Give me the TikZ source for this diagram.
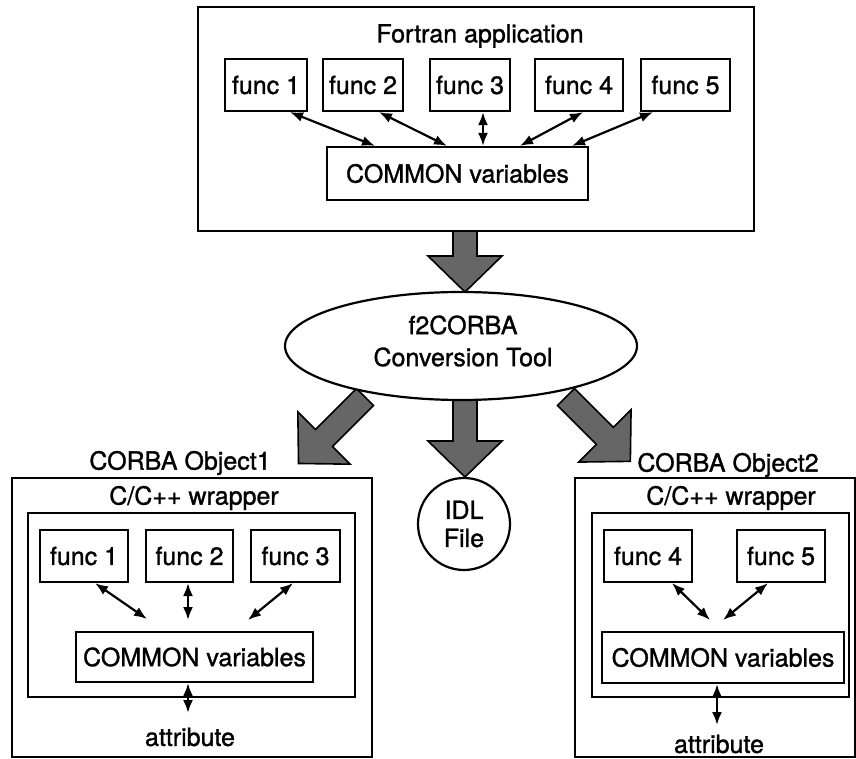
\documentclass[tikz,border=0pt]{standalone}
\usepackage{fontspec}
\setmainfont{TeX Gyre Heros}[FakeBold=1.2]
\usetikzlibrary{arrows.meta,shapes.geometric,calc}
\tikzset{
  box/.style={draw, line width=2.2pt, inner sep=0pt, font=\fontsize{25}{29}\selectfont},
  lbl/.style={inner sep=0pt, font=\fontsize{25}{29}\selectfont},
  link/.style={line width=2.2pt, {Latex[length=13pt,width=10pt]}-{Latex[length=13pt,width=10pt]}},
  pics/bigarrow/.style={code={
    \filldraw[fill=black!60, draw=black, line width=1.6pt, line join=miter]
      (0,12) -- (#1-36,12) -- (#1-36,37) -- (#1,0) -- (#1-36,-37) -- (#1-36,-12) -- (0,-12) -- cycle;}}
}
\begin{document}
\begin{tikzpicture}[x=1pt,y=-1pt]
\useasboundingbox (0,0) rectangle (856,759);

% ---------- Fortran application ----------
\node[box, minimum width=556pt, minimum height=224pt] (fortran) at (476,119) {};
\node[lbl] (ftitle) at (480,36) {Fortran application};
\node[box, minimum width=82pt, minimum height=52pt] (f1) at (266,85) {func 1};
\node[box, minimum width=80pt, minimum height=52pt] (f2) at (363,85) {func 2};
\node[box, minimum width=80pt, minimum height=52pt] (f3) at (470,85) {func 3};
\node[box, minimum width=88pt, minimum height=52pt] (f4) at (579,85) {func 4};
\node[box, minimum width=89pt, minimum height=52pt] (f5) at (685.5,85) {func 5};
\node[box, minimum width=261pt, minimum height=53pt] (com0) at (457.5,173.5) {COMMON variables};
\draw[link] ([xshift=24pt]f1.south) -- ([xshift=-82.5pt]com0.north);
\draw[link] ([xshift=16pt]f2.south) -- ([xshift=-10.5pt]com0.north);
\draw[link] ([xshift=13pt]f3.south) -- ([xshift=25.5pt]com0.north);
\draw[link] ([xshift=4pt]f4.south) -- ([xshift=62.5pt]com0.north);
\draw[link] ([xshift=-32.5pt]f5.south) -- ([xshift=114.5pt]com0.north);

% ---------- big arrows ----------
\coordinate (a1) at (465,231);
\coordinate (a2) at (465,400);
\coordinate (a3) at (365,397);
\coordinate (a4) at (566,397);
\pic[rotate=-90] at (a1) {bigarrow=61};
\pic[rotate=-90] at (a2) {bigarrow=77};
\pic[rotate=-135] at (a3) {bigarrow=94};
\pic[rotate=-45] at (a4) {bigarrow=91};

% ---------- conversion tool ----------
\node[ellipse, draw, fill=white, line width=2.2pt, minimum width=352pt, minimum height=108pt, inner sep=0pt] (tool) at (461,346) {};
\node[lbl, align=center, font=\fontsize{25}{32}\selectfont] (tooltext) at (463,341) {f2CORBA\\Conversion Tool};

\node[circle, draw, fill=white, line width=2.2pt, minimum size=92pt, inner sep=0pt, align=center, font=\fontsize{25}{28}\selectfont] (idl) at (464,524) {IDL\\File};

% ---------- CORBA Object1 ----------
\node[lbl] (o1title) at (180,463) {CORBA Object1};
\node[box, minimum width=360pt, minimum height=279pt] (obj1) at (192,617.5) {};
\node[lbl] (w1title) at (194,498) {C/C++ wrapper};
\node[box, minimum width=327pt, minimum height=184pt] (wrap1) at (191.5,605) {};
\node[box, minimum width=88pt, minimum height=52pt] (g1) at (84,556) {func 1};
\node[box, minimum width=87pt, minimum height=52pt] (g2) at (189.5,556) {func 2};
\node[box, minimum width=89pt, minimum height=52pt] (g3) at (295.5,556) {func 3};
\node[box, minimum width=237pt, minimum height=50pt] (com1) at (194.5,657) {COMMON variables};
\node[lbl] (attr1) at (190,737) {attribute};
\coordinate (e1) at (147,619);
\coordinate (e2) at (188,620);
\coordinate (e3) at (248,620);
\coordinate (e4) at (188,713);
\draw[link] ([xshift=11pt]g1.south) -- (e1);
\draw[link] ([xshift=-1.5pt]g2.south) -- (e2);
\draw[link] ([xshift=-2.5pt]g3.south) -- (e3);
\draw[link] ([xshift=-6.5pt]com1.south) -- (e4);

% ---------- CORBA Object2 ----------
\node[lbl] (o2title) at (728,465) {CORBA Object2};
\node[box, minimum width=280pt, minimum height=279pt] (obj2) at (715,617.5) {};
\node[lbl] (w2title) at (731,498) {C/C++ wrapper};
\node[box, minimum width=257pt, minimum height=184pt] (wrap2) at (720.5,605) {};
\node[box, minimum width=88pt, minimum height=52pt] (g4) at (648,556) {func 4};
\node[box, minimum width=88pt, minimum height=52pt] (g5) at (781,556) {func 5};
\node[box, minimum width=242pt, minimum height=51pt] (com2) at (723,657.5) {COMMON variables};
\node[lbl] (attr2) at (719,744) {attribute};
\coordinate (e5) at (710,620);
\coordinate (e6) at (723,620);
\coordinate (e7) at (717,725);
\draw[link] ([xshift=24pt]g4.south) -- (e5);
\draw[link] ([xshift=-13pt]g5.south) -- (e6);
\draw[link] ([xshift=-6pt]com2.south) -- (e7);
\end{tikzpicture}
\end{document}
